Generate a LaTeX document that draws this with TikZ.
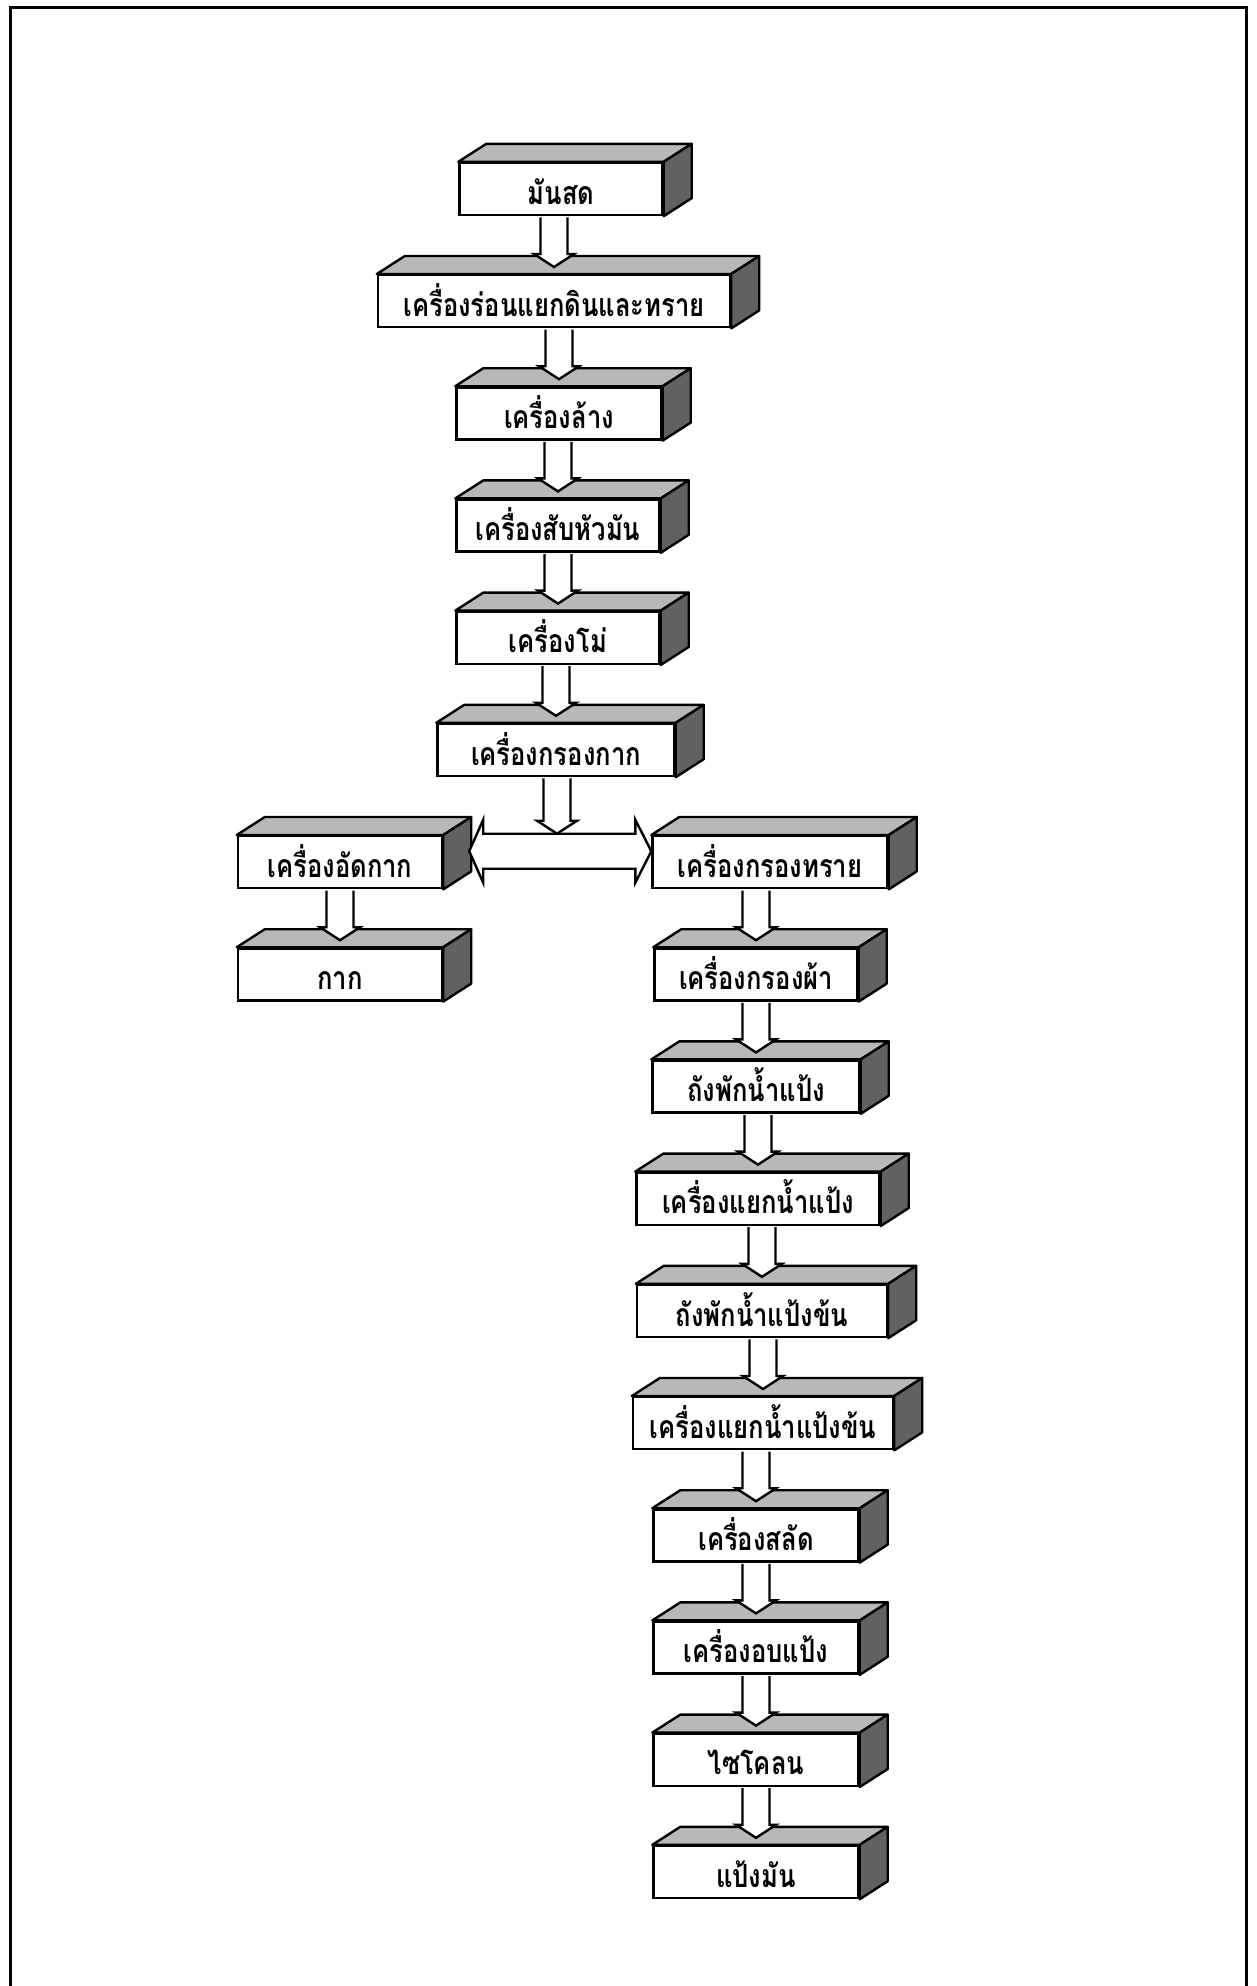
\documentclass[tikz,border=0pt]{standalone}
\usepackage{fontspec}
\newfontfamily\thaifont[Script=Thai]{Loma}
\usetikzlibrary{calc}
\tikzset{
  slab/.style={draw, fill=white, line width=2.4pt, minimum height=52pt, inner sep=0pt,
    text height=34pt, text depth=4pt, font=\thaifont\bfseries\fontsize{32}{38}\selectfont},
  topface/.style={draw, fill=black!28, line width=2.4pt, line join=round},
  sideface/.style={draw, fill=black!62, line width=2.4pt, line join=round},
  blockarrow/.style={draw, fill=white, line width=2.4pt, line join=miter},
  frame/.style={line width=3pt},
}
% hollow down arrow from the bottom of one box to a point
\newcommand\flow[3][7pt]{%
  \draw[blockarrow] let \p1=(#2.south), \p2=(#3) in
    (\x2-13.5pt,\y1-1.2pt) -- (\x2-13.5pt,\y2+#1+13pt) -- (\x2-20pt,\y2+#1+13pt) -- (\x2,\y2+#1)
    -- (\x2+20pt,\y2+#1+13pt) -- (\x2+13.5pt,\y2+#1+13pt) -- (\x2+13.5pt,\y1-1.2pt);}

\begin{document}
\begin{tikzpicture}[x=1pt,y=-1pt]
  \useasboundingbox (0,0) rectangle (1256,1986);
  \draw[frame] (10,1986) -- (10,7) -- (1246,7) -- (1246,1986);

  % boxes: name/label/width/centre x/row
  \foreach \name/\lab/\bw/\cx/\row in {%
    raw/มันสด/203/561/0,
    desand/เครื่องร่อนแยกดินและทราย/352/554/1,
    washer/เครื่องล้าง/205/559/2,
    chopper/เครื่องสับหัวมัน/203/558/3,
    grinder/เครื่องโม่/203/558/4,
    pulpsieve/เครื่องกรองกาก/237/556/5,
    press/เครื่องอัดกาก/204/340/6,
    pulp/กาก/204/340/7,
    sandsieve/เครื่องกรองทราย/235/770/6,
    clothsieve/เครื่องกรองผ้า/203/756/7,
    tank/ถังพักน้ำแป้ง/207/756/8,
    separator/เครื่องแยกน้ำแป้ง/243/758/9,
    cctank/ถังพักน้ำแป้งข้น/250/762/10,
    ccsep/เครื่องแยกน้ำแป้งข้น/260/763/11,
    shaker/เครื่องสลัด/205/756/12,
    dryer/เครื่องอบแป้ง/205/756/13,
    cyclone/ไซโคลน/205/756/14,
    starch/แป้งมัน/205/756/15} {
    \node[slab, minimum width=\bw pt] (\name) at (\cx,{189+112.2*\row}) {\scalebox{0.8}[1]{\lab}};
  }

  % top and side faces
  \foreach \n in {raw,desand,washer,chopper,grinder,pulpsieve,press,pulp,sandsieve,
      clothsieve,tank,separator,cctank,ccsep,shaker,dryer,cyclone,starch} {
    \draw[topface] (\n.north west) -- ++(28pt,18pt) -- ([shift={(28pt,18pt)}]\n.north east) -- (\n.north east) -- cycle;
    \draw[sideface] (\n.north east) -- ++(28pt,18pt) -- ([shift={(28pt,18pt)}]\n.south east) -- (\n.south east) -- cycle;
  }

  % split to both sides
  \draw[blockarrow] let \p1=(press.east), \p2=(sandsieve.west) in
    (\x1+26pt,\y1+11pt) -- (\x1+40pt,\y1+42.5pt) -- (\x1+40pt,\y1+28.5pt) -- (\x2-16pt,\y1+28.5pt)
    -- (\x2-16pt,\y1+42.5pt) -- (\x2,\y1+11pt) -- (\x2-16pt,\y1-20.5pt) -- (\x2-16pt,\y1-6.5pt)
    -- (\x1+40pt,\y1-6.5pt) -- (\x1+40pt,\y1-20.5pt) -- cycle;
  \coordinate (split) at (557,833.7);

  \foreach \a/\b in {raw/desand,desand/washer,washer/chopper,chopper/grinder,grinder/pulpsieve,
      press/pulp,sandsieve/clothsieve,clothsieve/tank,tank/separator,separator/cctank,
      cctank/ccsep,ccsep/shaker,shaker/dryer,dryer/cyclone,cyclone/starch} {
    \flow{\a}{\b.north}
  }
  \flow[0pt]{pulpsieve}{split}
\end{tikzpicture}
\end{document}
